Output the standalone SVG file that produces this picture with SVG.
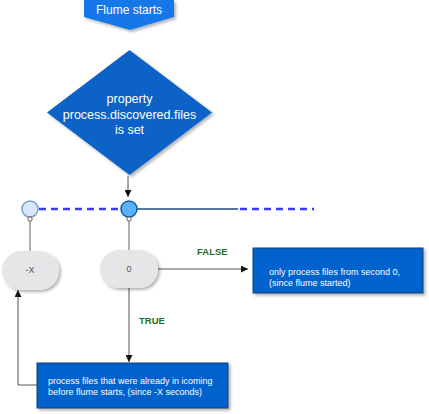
<svg xmlns="http://www.w3.org/2000/svg" width="429" height="414" viewBox="0 0 429 414">
<defs>
<filter id="sh" x="-20%" y="-20%" width="150%" height="150%">
<feDropShadow dx="2" dy="2" stdDeviation="1.5" flood-color="#000" flood-opacity="0.3"/>
</filter>
<marker id="ah" viewBox="0 0 10 10" refX="10" refY="5" markerWidth="7" markerHeight="7" orient="auto" markerUnits="userSpaceOnUse">
<path d="M0,0 L10,5 L0,10 z" fill="#111"/>
</marker>
</defs>
<style>
.box{fill:#0062cc;stroke:#1c3e6e;stroke-width:1;filter:url(#sh)}
.wt{fill:#fff;font-family:"Liberation Sans",Arial,sans-serif}
.pill{fill:#e6e6e8;filter:url(#sh)}
.lbl{fill:#1e6e1e;font-family:"Liberation Sans",Arial,sans-serif;font-weight:bold;font-size:9.5px}
.con{fill:none;stroke:#555;stroke-width:1}
.gray{fill:none;stroke:#999;stroke-width:1.5}
.dash{fill:none;stroke:#3a3aff;stroke-width:2.5;stroke-dasharray:7,5}
.pt{font-family:"Liberation Sans",Arial,sans-serif;font-size:9px;fill:#555}
</style>
<g id="connectors">
<line class="con" x1="128" y1="176" x2="128" y2="197" marker-end="url(#ah)"/>
<line class="dash" x1="39" y1="209" x2="120" y2="209"/>
<line x1="137" y1="209" x2="238" y2="209" stroke="#1a4a80" stroke-width="1.5"/>
<line class="dash" x1="240" y1="209" x2="314" y2="209"/>
<line class="gray" x1="30" y1="221" x2="30" y2="251"/>
<line class="gray" x1="129" y1="221" x2="129" y2="250"/>
<line class="con" x1="158" y1="269" x2="248" y2="269" marker-end="url(#ah)"/>
<line class="con" x1="129" y1="288" x2="129" y2="362" marker-end="url(#ah)"/>
<path class="con" d="M37,385 L18,385 L18,290" marker-end="url(#ah)"/>
<text class="lbl" x="197" y="255">FALSE</text>
<text class="lbl" x="139" y="324">TRUE</text>
</g>
<g id="start">
<path d="M84,0 L174,0 L174,17 L130,30 L84,17 z" fill="#1577e8" filter="url(#sh)"/>
<text class="wt" x="129" y="14" text-anchor="middle" font-size="12">Flume starts</text>
</g>
<g id="decision">
<path d="M129.5,50 L212,112.5 L129.5,175 L47,112.5 z" fill="#0a62c8" filter="url(#sh)"/>
<text class="wt" x="129.5" y="103" text-anchor="middle" font-size="12.5">property</text>
<text class="wt" x="129.5" y="119" text-anchor="middle" font-size="12.5">process.discovered.files</text>
<text class="wt" x="129.5" y="134" text-anchor="middle" font-size="12.5">is set</text>
</g>
<g id="point-left">
<circle cx="30" cy="209" r="8" fill="#d8e8fa" stroke="#7aa0cc" stroke-width="1.5"/>
<circle cx="30" cy="219" r="2.2" fill="#fff" stroke="#333" stroke-width="0.8"/>
</g>
<g id="point-right">
<circle cx="129" cy="209" r="8" fill="#5ab2ff" stroke="#1a5a9a" stroke-width="1.5"/>
<circle cx="129" cy="219" r="2.2" fill="#fff" stroke="#333" stroke-width="0.8"/>
</g>
<g id="node-x">
<rect class="pill" x="2" y="251" width="57" height="39" rx="19.5"/>
<text class="pt" x="30" y="273" text-anchor="middle">-X</text>
</g>
<g id="node-0">
<rect class="pill" x="100" y="250" width="58" height="38" rx="19"/>
<text class="pt" x="129" y="272" text-anchor="middle">0</text>
</g>
<g id="box-false">
<rect class="box" x="253" y="248" width="170" height="45"/>
<text class="wt" x="269" y="275" font-size="9">only process files from second 0,</text>
<text class="wt" x="269" y="286" font-size="9">(since flume started)</text>
</g>
<g id="box-true">
<rect class="box" x="37" y="363" width="191" height="45"/>
<text class="wt" x="48" y="384" font-size="9">process files that were already in icoming</text>
<text class="wt" x="48" y="395" font-size="9">before flume starts, (since -X seconds)</text>
</g>
</svg>
